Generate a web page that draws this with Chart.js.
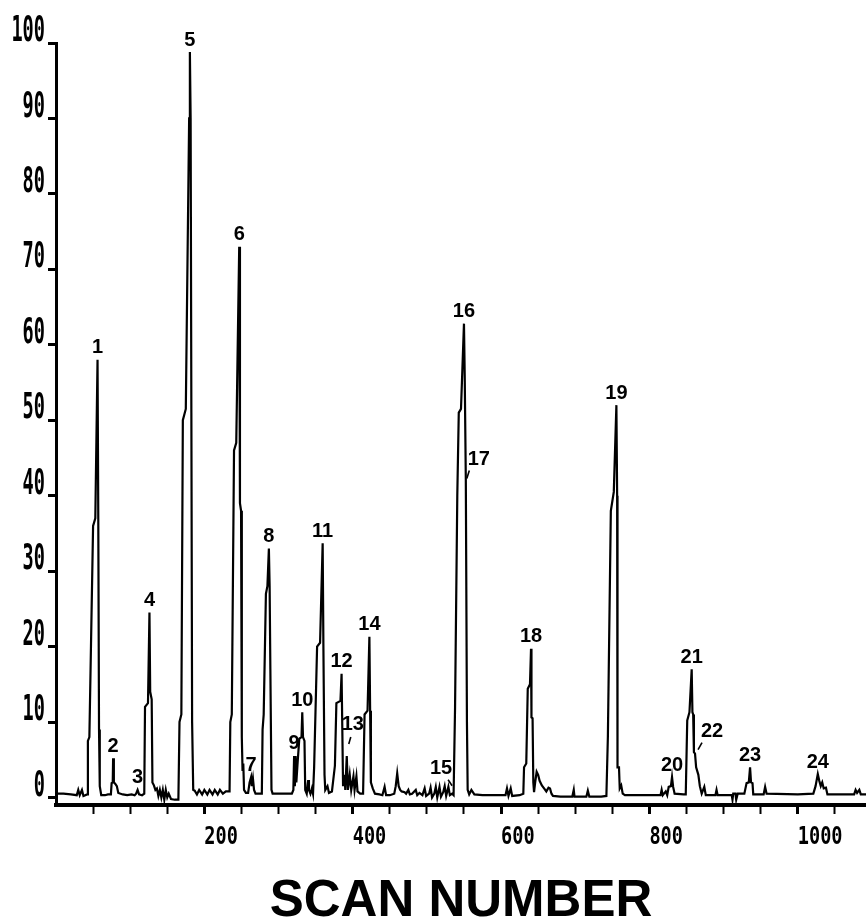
<!DOCTYPE html>
<html>
<head>
<meta charset="utf-8">
<title>Scan number trace</title>
<script src="https://cdn.jsdelivr.net/npm/chart.js@4.4.1/dist/chart.umd.min.js"></script>
<style>
  html, body { margin: 0; padding: 0; background: #fff; }
  canvas { display: block; }
</style>
</head>
<body>
<canvas id="scanChart" width="866" height="919"></canvas>
<script>
// --- trace (scan number / relative intensity) ---
const scanNumbers = [
  0, 10, 20, 28, 30, 32, 35, 37, 42, 43, 45, 50, 53, 56, 57, 58, 59, 61, 66, 70,
  74, 75, 76.5, 77, 78, 80, 82, 84, 90, 96, 102, 106, 108, 110, 112, 116, 119, 120, 124, 126,
  127, 129, 130, 132, 134, 136, 138, 140, 142, 144, 146, 148, 150, 152, 155, 160, 165, 166.5, 169, 171,
  175, 179.5, 180.5, 181.5, 182.5, 183.5, 185, 187, 190, 193, 197, 200, 204, 207, 211, 214, 218, 221, 225, 229,
  234, 235, 237, 240, 243, 247, 248, 249.5, 250.5, 251.5, 252.5, 253.5, 256, 259, 261, 263, 264, 265.5, 267, 269,
  276, 277.5, 278.5, 280, 283, 285, 287, 288, 289, 290.5, 292, 300, 308, 318, 320, 321, 322, 323, 324, 326,
  328, 331, 332, 333, 335, 336, 338, 340, 341, 343, 345, 346.5, 348, 352, 356, 359.5, 360.5, 362, 363, 366,
  368, 372, 376, 378, 383.5, 385, 386, 387, 389, 390, 392, 393.5, 396, 398, 401, 402.5, 405, 406.5, 410, 414,
  416, 420, 422.5, 423.5, 424.5, 427, 430, 436, 440, 443, 445, 450, 456, 458, 460, 462, 464, 466, 470, 472,
  475, 477, 480, 485, 487, 490, 494, 497, 499, 503, 505, 507, 510, 512, 514, 517, 519, 522, 524, 526,
  529, 531, 534, 536, 538, 541, 543, 546, 550, 551, 552.5, 554, 555, 557, 560, 564, 575, 590, 606, 608,
  610, 613, 615, 625, 630, 631, 634, 636, 639, 640.4, 641, 642.5, 643.5, 644.5, 646, 648, 650, 652, 655, 658,
  661, 664, 666, 668, 670, 680, 696, 698, 699, 715, 717, 719, 735, 742, 744, 748, 752, 755.5, 756.5, 757,
  759, 760, 762, 764, 767, 790, 815, 816.5, 818, 822, 824, 826, 829, 830.5, 832, 834, 846, 849, 851, 854,
  857, 858, 859, 860, 861.5, 863, 866, 868, 870.5, 874, 876, 889, 890.5, 892, 911, 912, 913, 916, 917, 919,
  928, 931, 934, 935.7, 937, 939, 940, 954, 956, 958, 1000, 1021, 1024, 1027, 1029, 1031, 1033, 1035, 1038, 1040,
  1076, 1078, 1080, 1083, 1085, 1092
];
const intensities = [
  0.5, 0.5, 0.4, 0.3, 1.0, 0.3, 1.0, 0.2, 0.4, 7.5, 8, 36, 37, 58, 37, 9, 1.5, 0.3, 0.3, 0.4,
  0.4, 1.9, 2, 5.2, 2, 1.8, 1.5, 0.6, 0.4, 0.3, 0.4, 0.3, 0.5, 1, 0.4, 0.3, 0.5, 12, 12.5, 24.5,
  14, 13, 2, 1.6, 1, 1.2, 0.2, 1, 0, 1, -0.3, 1, 0, 0.5, -0.2, -0.3, -0.3, 10, 11, 50,
  51.5, 90, 98.8, 90, 51, 10, 1, 0.9, 0.4, 1, 0.4, 1, 0.4, 1, 0.4, 1, 0.4, 1, 0.5, 0.8,
  0.8, 10, 11, 46, 47, 73, 39, 38, 8, 3.5, 4.5, 1, 0.6, 0.6, 2, 2.7, 1.5, 2.5, 1, 0.5,
  0.5, 0.5, 9, 11, 27, 28, 33, 28, 17, 1, 0.5, 0.5, 0.5, 0.5, 1, 5.5, 1.5, 5.5, 2, 5,
  7.8, 8, 11.3, 8, 7.5, 1, 0.5, 2.3, 1, 0.5, 1.2, 0.5, 4, 20, 20.5, 33.7, 20, 3, 1, 1.5,
  0.6, 0.8, 4.2, 12.5, 12.8, 16.4, 9, 1.5, 3, 1, 5.5, 1, 3, 1, 2.8, 1, 2.8, 0.8, 0.5, 0.5,
  11, 11.5, 21.3, 11.5, 2, 1.2, 0.5, 0.4, 0.3, 1.4, 0.3, 0.3, 0.5, 1.5, 3.2, 1.5, 1, 0.8, 0.7, 0.5,
  1, 0.4, 0.5, 1, 0.3, 0.6, 0.3, 1.2, 0.2, 0.5, 1.3, 0, 0.5, 1.4, 0, 1.4, 0.1, 0.7, 1.5, 0.2,
  1.4, 0.3, 0.5, 0.3, 12, 40, 51, 51.5, 62.8, 56, 42, 10, 1, 0.4, 1, 0.4, 0.3, 0.3, 0.3, 1.2,
  0.2, 1.2, 0.2, 0.3, 0.5, 4, 4.5, 14.4, 15, 19.7, 10.6, 10.5, 2, 0.7, 2, 3.4, 3, 2.2, 1.6, 1.2,
  0.8, 1.3, 1.2, 0.5, 0.2, 0.1, 0.1, 1, 0.1, 0.1, 0.9, 0.1, 0.1, 0.2, 8, 38, 40.5, 52, 40, 4,
  4, 1.2, 1.6, 0.5, 0.3, 0.3, 0.3, 1, 0.3, 0.8, 0.3, 1.4, 1.5, 2.7, 1.4, 0.5, 0.4, 0.4, 10.2, 11.3,
  17, 11.3, 11, 6, 5.8, 4, 3, 1.5, 0.5, 1.4, 0.3, 0.3, 1, 0.3, 0.3, -0.3, 0.5, 0.5, -0.3, 0.5,
  0.5, 1.9, 2, 4, 2, 1.9, 0.4, 0.4, 1.4, 0.5, 0.4, 0.5, 1.5, 3.1, 2.2, 1.5, 2, 1.2, 1.3, 0.4,
  0.4, 1, 0.6, 1, 0.4, 0.4
];

// --- axes ---
const yTickValues = [0, 10, 20, 30, 40, 50, 60, 70, 80, 90, 100];
const xTickValues = [50, 100, 150, 200, 250, 300, 350, 400, 450, 500, 550,
                     600, 650, 700, 750, 800, 850, 900, 950, 1000, 1050];
const xTickLabels = ['200', '400', '600', '800', '1000'];

// --- numbered peaks (scan where each number points) ---
const peakNames = ['1', '2', '3', '4', '5', '6', '7', '8', '9', '10', '11', '12',
                   '13', '14', '15', '16', '17', '18', '19', '20', '21', '22', '23', '24'];
const peakScans = [56, 77, 110, 126, 180.5, 247, 263, 287, 321, 332, 359.5, 385,
                   392, 422.5, 534, 550, 552.5, 640.4, 755.5, 830.5, 857, 861.5, 935.7, 1027];

// label placement in pixels, relative to the point it names
const defaultShift = { dx: 0, dy: -12 };
const labelShift = {
  '13': { dx: 6, dy: -31, leader: [2, -12, 4, -19] },
  '15': { dx: -11, dy: -25, leader: [-4, -14, 0, -8] },
  '17': { dx: 13, dy: -21, leader: [1, -2, 3.5, -10] },
  '22': { dx: 17, dy: -22, leader: [3, -4, 7, -11] }
};

const canvas = document.getElementById('scanChart');
const ctx = canvas.getContext('2d');

// the plotter's tick digits are tall and narrow: squeeze the mono font sideways
const plainFill = ctx.fillText.bind(ctx);
ctx.fillText = function (text, x, y, maxWidth) {
  if (!ctx.font.includes('DejaVu Sans Mono')) return plainFill(text, x, y, maxWidth);
  const str = String(text);
  const w = ctx.measureText(str).width;
  if (!w) return;
  ctx.save();
  ctx.translate(x, y);
  ctx.scale((str.length * 11.2) / w, 1);
  plainFill(str, 0, 0);
  ctx.restore();
};

function nearestIndex(scan) {
  let best = 0;
  scanNumbers.forEach((s, i) => {
    if (Math.abs(s - scan) < Math.abs(scanNumbers[best] - scan)) best = i;
  });
  return best;
}

const peakLabels = {
  id: 'peakLabels',
  afterDatasetsDraw(chart) {
    const { ctx, scales: { x, y } } = chart;
    ctx.save();
    ctx.fillStyle = '#000';
    ctx.strokeStyle = '#000';
    ctx.lineWidth = 1.6;
    ctx.font = 'bold 20px "Liberation Sans"';
    ctx.textAlign = 'center';
    ctx.textBaseline = 'middle';
    peakNames.forEach((name, i) => {
      const k = nearestIndex(peakScans[i]);
      const px = x.getPixelForValue(scanNumbers[k]);
      const py = y.getPixelForValue(intensities[k]);
      const s = labelShift[name] || defaultShift;
      if (s.leader) {
        ctx.beginPath();
        ctx.moveTo(px + s.leader[0], py + s.leader[1]);
        ctx.lineTo(px + s.leader[2], py + s.leader[3]);
        ctx.stroke();
      }
      ctx.fillText(name, px + s.dx, py + s.dy);
    });
    ctx.restore();
  }
};

Chart.defaults.font.family = 'Liberation Sans';
Chart.defaults.color = '#000';

new Chart(ctx, {
  type: 'line',
  data: {
    datasets: [{
      data: scanNumbers.map((s, i) => ({ x: s, y: intensities[i] })),
      borderColor: '#000',
      borderWidth: 2.2,
      pointRadius: 0,
      tension: 0,
      fill: false
    }]
  },
  options: {
    responsive: false,
    animation: false,
    devicePixelRatio: 1,
    layout: { padding: { top: 43, right: 0, left: 0, bottom: 0 } },
    plugins: {
      legend: { display: false },
      tooltip: { enabled: false }
    },
    scales: {
      x: {
        type: 'linear',
        min: 0,
        max: 1092,
        afterBuildTicks: (scale) => { scale.ticks = xTickValues.map(v => ({ value: v })); },
        afterFit: (scale) => { scale.height = 114; },
        border: { display: true, color: '#000', width: 4 },
        grid: {
          drawOnChartArea: false,
          drawTicks: true,
          tickLength: 9,
          tickColor: '#000',
          tickWidth: (c) => (xTickLabels.includes(String(c.tick && c.tick.value)) ? 3 : 2)
        },
        ticks: {
          autoSkip: false,
          maxRotation: 0,
          minRotation: 0,
          align: 'start',
          padding: 8,
          color: '#000',
          font: { family: 'DejaVu Sans Mono', size: 25, weight: 'bold' },
          callback: (v) => (xTickLabels.includes(String(v)) ? String(v) : '')
        },
        title: {
          display: true,
          text: 'SCAN NUMBER',
          color: '#000',
          font: { family: 'Liberation Sans', size: 51, weight: 'bold', lineHeight: 0.66 },
          padding: { top: 0, bottom: 0 }
        }
      },
      y: {
        type: 'linear',
        min: -1,
        max: 100,
        afterBuildTicks: (scale) => { scale.ticks = yTickValues.map(v => ({ value: v })); },
        afterFit: (scale) => { scale.width = 56; },
        border: { display: true, color: '#000', width: 3 },
        grid: {
          drawOnChartArea: false,
          drawTicks: true,
          tickLength: 8,
          tickColor: '#000',
          tickWidth: 3
        },
        ticks: {
          padding: 3,
          labelOffset: -11,
          color: '#000',
          font: { family: 'DejaVu Sans Mono', size: 35, weight: 'bold' },
          callback: (v) => String(v)
        }
      }
    }
  },
  plugins: [peakLabels]
});
</script>
</body>
</html>
